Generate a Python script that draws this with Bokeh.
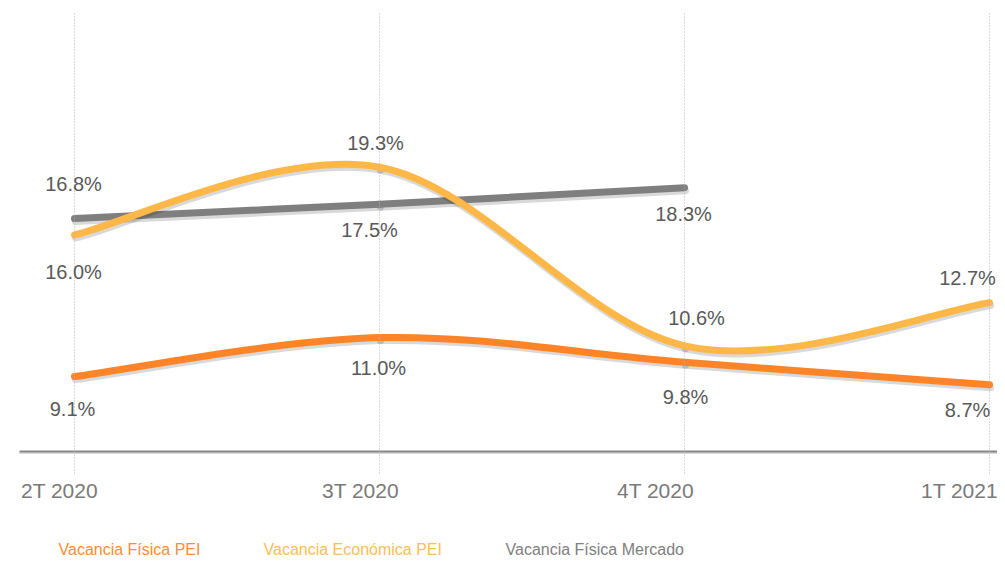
from bokeh.plotting import figure
from bokeh.models import Range1d
from bokeh.core.properties import value
from bokeh.embed import file_html
from bokeh.resources import INLINE

# ---- data ----
categories = ["2T 2020", "3T 2020", "4T 2020", "1T 2021"]
fisica_pei = [9.1, 11.0, 9.8, 8.7]
economica_pei = [16.0, 19.3, 10.6, 12.7]
fisica_mercado = [16.8, 17.5, 18.3]
legend_labels = ["Vacancia Física PEI", "Vacancia Económica PEI", "Vacancia Física Mercado"]

# ---- style ----
C_OR = "#FF8427"
C_YE = "#FFB847"
C_GR = "#7F7F7F"
LBL = "#595959"
AXL = "#7A7A7A"
FONT = value("Liberation Sans")

W, H = 997, 559
# pixel mapping helpers (canvas pixels, origin top-left)
X0_PX, DX_PX = 74.0, 305.0
Y_REF_PX, Y_REF_V, PX_PER_V = 384.3, 8.7, 20.53


def px_to_x(px):
    return (px - X0_PX) / DX_PX


def px_to_y(py):
    return Y_REF_V - (py - Y_REF_PX) / PX_PER_V


p = figure(width=W, height=H, output_backend="svg", toolbar_location=None,
           x_range=Range1d(px_to_x(0), px_to_x(W)),
           y_range=Range1d(px_to_y(H), px_to_y(0)),
           min_border=0, min_border_left=0, min_border_right=0,
           min_border_top=0, min_border_bottom=0)
p.axis.visible = False
p.grid.visible = False
p.outline_line_color = None
p.background_fill_color = "white"
p.border_fill_color = "white"

xs = list(range(len(categories)))

# baseline
base_v = px_to_y(451)
p.segment(x0=[px_to_x(19)], x1=[px_to_x(W)], y0=[px_to_y(452.5)], y1=[px_to_y(452.5)],
          line_color="#DADADA", line_width=2)
p.segment(x0=[px_to_x(19)], x1=[px_to_x(W)], y0=[base_v], y1=[base_v],
          line_color="#888888", line_width=2)


def bez(xv, yv):
    n = len(xv)
    out = dict(x0=[], y0=[], x1=[], y1=[], cx0=[], cy0=[], cx1=[], cy1=[])
    for i in range(n - 1):
        a = max(i - 1, 0)
        d = min(i + 2, n - 1)
        out["x0"].append(xv[i]); out["y0"].append(yv[i])
        out["x1"].append(xv[i + 1]); out["y1"].append(yv[i + 1])
        out["cx0"].append(xv[i] + (xv[i + 1] - xv[a]) / 6.0)
        out["cy0"].append(yv[i] + (yv[i + 1] - yv[a]) / 6.0)
        out["cx1"].append(xv[i + 1] - (xv[d] - xv[i]) / 6.0)
        out["cy1"].append(yv[i + 1] - (yv[d] - yv[i]) / 6.0)
    return out


def draw_series(vals, color):
    xv = xs[:len(vals)]
    sh = bez([x + 1.0 / DX_PX for x in xv], [v - 3.0 / PX_PER_V for v in vals])
    p.bezier(**sh, line_color="black", line_alpha=0.15, line_width=7, line_cap="round")
    b = bez(xv, vals)
    p.bezier(**b, line_color=color, line_width=7, line_cap="round")


draw_series(fisica_mercado, C_GR)
draw_series(economica_pei, C_YE)
draw_series(fisica_pei, C_OR)

# vertical dotted gridlines (drawn over the series, as in the reference)
p.segment(x0=xs, x1=xs, y0=[px_to_y(13)] * len(xs), y1=[px_to_y(473)] * len(xs),
          line_color="#B5B5B5", line_width=1, line_dash="1 2")

# data labels (screen offsets in px)
lab_off = {
    "gr": ([-1, -10, -1], [-35, 26, 26]),
    "ye": ([-1, -4, 12, -22], [37, -24, -28, -25]),
    "or": ([-2, -1, 1, -22], [32, 30, 35, 25]),
}
for key, vals in (("gr", fisica_mercado), ("ye", economica_pei), ("or", fisica_pei)):
    xo, yo = lab_off[key]
    p.text(x=xs[:len(vals)], y=vals, text=[f"{v:.1f}%" for v in vals],
           x_offset=xo, y_offset=yo, text_align="center", text_baseline="middle",
           text_font=FONT, text_font_size="20px", text_color=LBL)

# category labels
p.text(x=xs, y=[base_v] * len(xs), text=categories,
       x_offset=[-15, -19, -29, -30], y_offset=[39] * len(xs),
       text_align="center", text_baseline="middle",
       text_font=FONT, text_font_size="21px", text_color=AXL)

# legend (text only)
leg_px = [58, 263, 505]
leg_col = ["#FF8C33", "#FFBD55", "#808080"]
p.text(x=[px_to_x(v) for v in leg_px], y=[px_to_y(549)] * 3, text=legend_labels,
       text_align="left", text_baseline="middle", text_font=FONT,
       text_font_size="16px", text_color=leg_col)

open("out.html", "w").write(file_html(p, INLINE))
